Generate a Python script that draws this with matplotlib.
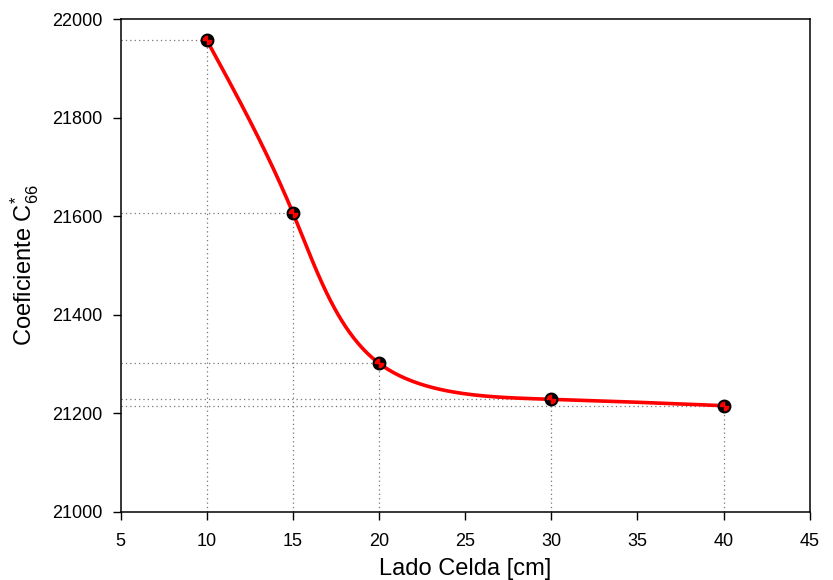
import numpy as np
import matplotlib.pyplot as plt
from matplotlib.path import Path

plt.rcParams['font.family'] = ['Liberation Sans', 'DejaVu Sans']
plt.rcParams['mathtext.fontset'] = 'custom'
plt.rcParams['mathtext.rm'] = 'Liberation Sans'

# datos
lado = [10, 15, 20, 30, 40]
c66 = [21957, 21606, 21301, 21228, 21215]
xticks = [5, 10, 15, 20, 25, 30, 35, 40, 45]
yticks = [21000, 21200, 21400, 21600, 21800, 22000]


def spline_natural_1d(t, v, ts):
    k = len(t)
    h = np.diff(t)
    A = np.zeros((k, k))
    b = np.zeros(k)
    A[0, 0] = A[-1, -1] = 1
    for i in range(1, k - 1):
        A[i, i - 1] = h[i - 1]
        A[i, i] = 2 * (h[i - 1] + h[i])
        A[i, i + 1] = h[i]
        b[i] = 6 * ((v[i + 1] - v[i]) / h[i] - (v[i] - v[i - 1]) / h[i - 1])
    M = np.linalg.solve(A, b)
    idx = np.clip(np.searchsorted(t, ts) - 1, 0, k - 2)
    t0, t1 = t[idx], t[idx + 1]
    hh = t1 - t0
    return (M[idx] * (t1 - ts) ** 3 / (6 * hh) + M[idx + 1] * (ts - t0) ** 3 / (6 * hh)
            + (v[idx] / hh - M[idx] * hh / 6) * (t1 - ts)
            + (v[idx + 1] / hh - M[idx + 1] * hh / 6) * (ts - t0))


def curva_suave(x, y, n=400):
    """Spline parametrica (longitud de cuerda en escala de pantalla)."""
    x = np.asarray(x, float)
    y = np.asarray(y, float)
    px = (x - 5) / 40 * 689
    py = (y - 21000) / 1000 * 492
    t = np.concatenate([[0], np.cumsum(np.hypot(np.diff(px), np.diff(py)))])
    ts = np.linspace(0, t[-1], n)
    return spline_natural_1d(t, x, ts), spline_natural_1d(t, y, ts)


# marcador: cuartos rojos dentro del circulo negro
cuartos = Path.make_compound_path(Path.wedge(90, 180), Path.wedge(270, 360))

fig = plt.figure(figsize=(8.33, 5.8), dpi=100)
ax = fig.add_axes([0.145, 0.118, 0.827, 0.849])

for xi, yi in zip(lado, c66):
    ax.plot([5, xi], [yi, yi], color='#777777', linestyle=(0, (1, 2.5)), linewidth=0.9, zorder=1)
    ax.plot([xi, xi], [21000, yi], color='#777777', linestyle=(0, (1, 2.5)), linewidth=0.9, zorder=1)

xs, ys = curva_suave(lado, c66)
ax.plot(xs, ys, color='red', linewidth=2.6, zorder=2)
ax.plot(lado, c66, 'o', color='black', markersize=9, zorder=3)
ax.plot(lado, c66, linestyle='none', marker=cuartos, color='red', markersize=6, zorder=4)

ax.set_xlim(5, 45)
ax.set_ylim(21000, 22000)
ax.set_xticks(xticks)
ax.set_yticks(yticks)
ax.tick_params(direction='out', length=5.5, width=1, labelsize=13)
ax.tick_params(axis='x', pad=10)
ax.tick_params(axis='y', pad=8)
for s in ax.spines.values():
    s.set_linewidth(1.1)

ax.set_xlabel('Lado Celda [cm]', fontsize=17, labelpad=6)
ax.set_ylabel(r'Coeficiente C$^{*}_{66}$', fontsize=17, labelpad=8)

fig.savefig('out.png', dpi=100)
